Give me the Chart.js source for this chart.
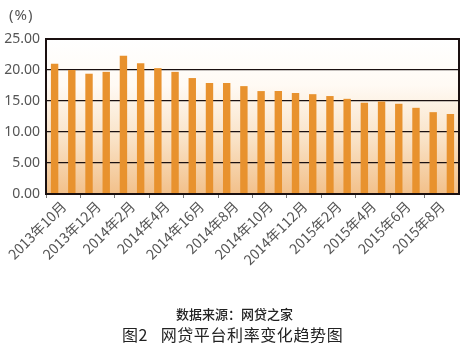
<!DOCTYPE html>
<html>
<head>
<meta charset="utf-8">
<script src="https://cdn.jsdelivr.net/npm/chart.js@4.4.0/dist/chart.umd.min.js"></script>
<style>
  html, body { margin: 0; padding: 0; background: #fff; }
  #wrap { position: relative; width: 469px; height: 353px; }
  canvas { position: absolute; left: 0; top: 0; }
  .txt { position: absolute; font-family: "Noto Sans CJK SC", sans-serif; color: #222; white-space: pre; }
  #unit { left: 9px; top: 4px; font-size: 15px; color: #555; font-family: "Noto Sans", sans-serif; letter-spacing: 1px; }
  #src { left: 0; width: 469px; text-align: center; top: 304px; font-size: 13px; font-weight: 500; }
  #ttl { left: 122px; top: 322px; font-size: 16px; letter-spacing: 0.6px; }
</style>
</head>
<body>
<div id="wrap">
  <canvas id="c" width="469" height="353"></canvas>
  <div class="txt" id="unit">(%)</div>
  <div class="txt" id="src">数据来源：网贷之家</div>
  <div class="txt" id="ttl">图2   网贷平台利率变化趋势图</div>
</div>
<script>
const categories = [
  "2013年10月","2013年11月","2013年12月","2014年1月","2014年2月","2014年3月",
  "2014年4月","2014年5月","2014年6月","2014年7月","2014年8月","2014年9月",
  "2014年10月","2014年11月","2014年12月","2015年1月","2015年2月","2015年3月",
  "2015年4月","2015年5月","2015年6月","2015年7月","2015年8月","2015年9月"
];
const rates = [
  21.0, 20.0, 19.4, 19.7, 22.3, 21.1, 20.3, 19.7, 18.7, 17.9, 17.9, 17.4,
  16.6, 16.6, 16.3, 16.1, 15.8, 15.35, 14.7, 14.9, 14.55, 13.9, 13.2, 12.9
];
const tickLabels = [
  "2013年10月","2013年12月","2014年2月","2014年4月","2014年16月","2014年8月",
  "2014年10月","2014年112月","2015年2月","2015年4月","2015年6月","2015年8月"
];
const yTicks = [0, 5, 10, 15, 20, 25];

const bgPlugin = {
  id: 'bg',
  beforeDraw(chart) {
    const {ctx, chartArea: a} = chart;
    const g = ctx.createLinearGradient(0, a.top, 0, a.bottom);
    g.addColorStop(0, '#ffffff');
    g.addColorStop(0.3, '#fffaf4');
    g.addColorStop(0.65, '#f9e2c6');
    g.addColorStop(1, '#f2c08a');
    ctx.save();
    ctx.fillStyle = g;
    ctx.fillRect(a.left, a.top, a.right - a.left, a.bottom - a.top);
    ctx.restore();
  },
  afterDraw(chart) {
    const {ctx, chartArea: a} = chart;
    ctx.save();
    ctx.strokeStyle = '#1a1010';
    ctx.lineWidth = 2;
    ctx.strokeRect(a.left, a.top, a.right - a.left, a.bottom - a.top);
    ctx.restore();
  }
};

new Chart(document.getElementById('c'), {
  type: 'bar',
  data: {
    labels: categories,
    datasets: [{
      data: rates,
      backgroundColor: '#e8922e',
      borderWidth: 0,
      categoryPercentage: 1.0,
      barPercentage: 0.43
    }]
  },
  options: {
    responsive: false,
    animation: false,
    layout: { padding: { top: 39, right: 10, left: 0, bottom: 0 } },
    plugins: { legend: { display: false }, tooltip: { enabled: false } },
    scales: {
      x: {
        offset: true,
        border: { display: false },
        grid: {
          offset: true,
          drawOnChartArea: false,
          tickLength: 4,
          color: (c) => (c.index % 2 === 0 ? '#777' : 'rgba(0,0,0,0)')
        },
        ticks: {
          autoSkip: false,
          minRotation: 45,
          maxRotation: 45,
          labelOffset: 9,
          padding: 0,
          color: '#555',
          font: { family: '"Noto Sans CJK SC", sans-serif', size: 14 },
          callback: (v, i) => (i % 2 === 0 ? tickLabels[i / 2] : '')
        },
        afterFit(s) { s.height = 159; }
      },
      y: {
        min: 0,
        max: 25,
        border: { display: false },
        grid: { color: '#1a1010', lineWidth: 1.3, drawTicks: false },
        afterBuildTicks(s) { s.ticks = yTicks.map(v => ({ value: v })); },
        ticks: {
          padding: 6,
          color: '#555',
          font: { family: '"Noto Sans", sans-serif', size: 14 },
          callback: (v) => Number(v).toFixed(2)
        },
        afterFit(s) { s.width = 46; }
      }
    }
  },
  plugins: [bgPlugin]
});
</script>
</body>
</html>
